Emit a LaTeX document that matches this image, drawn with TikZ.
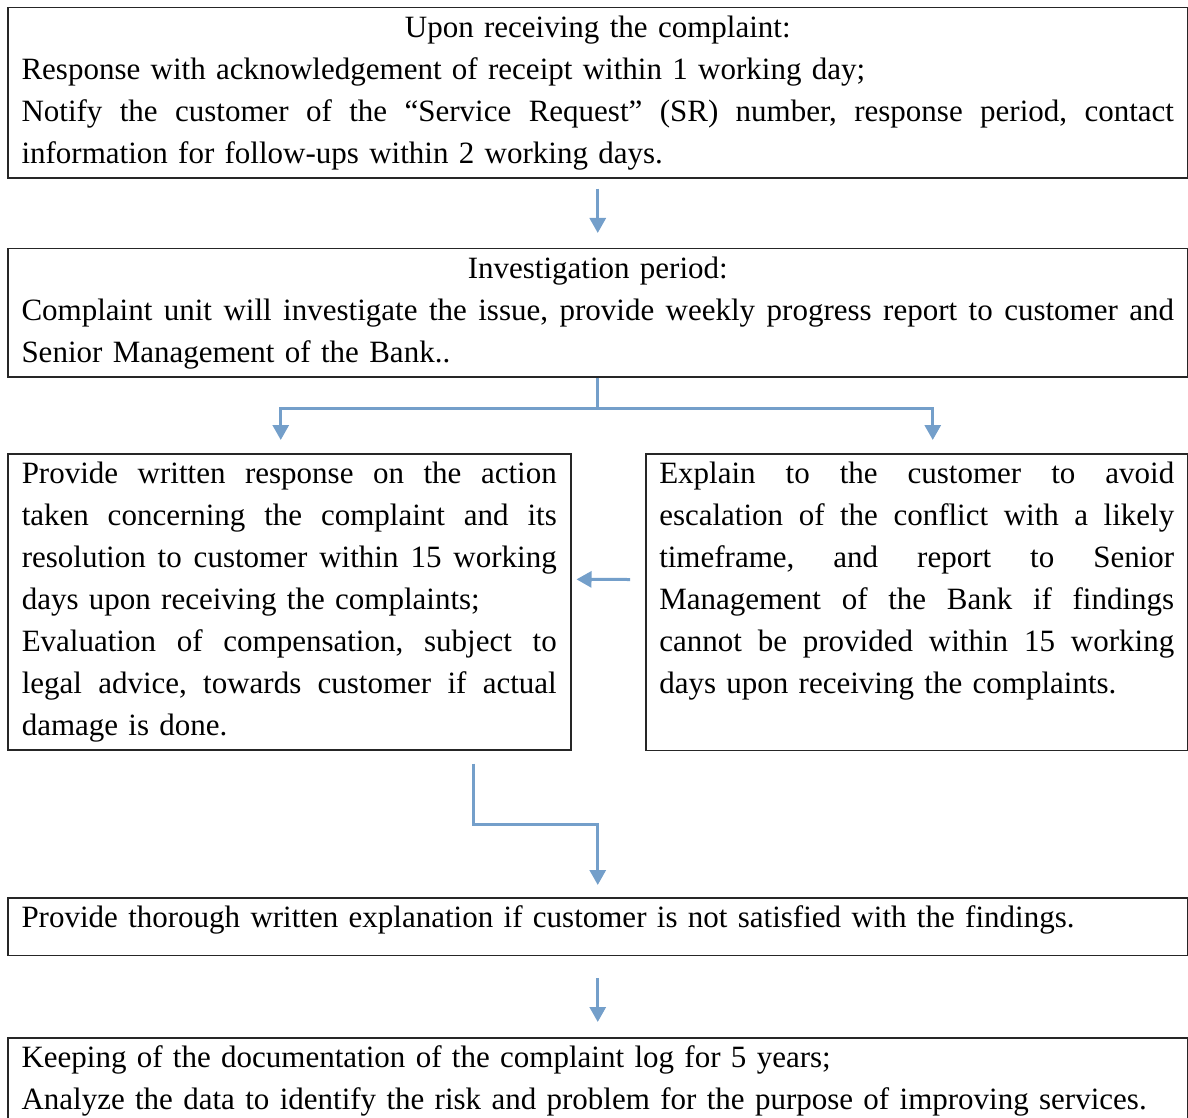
\documentclass[tikz,border=0pt]{standalone}
\usepackage{fontspec}
\setmainfont{Liberation Serif}
\usetikzlibrary{arrows.meta}
\definecolor{flowblue}{RGB}{116,159,202}
\newcommand{\boxfont}{\fontsize{15.5}{21}\selectfont}
\tikzstyle{box}=[draw=black!85, line width=0.75pt, anchor=north west, inner ysep=4pt, font=\boxfont]
\tikzstyle{wide}=[box, text width=576.25pt, inner xsep=6.875pt]
\tikzstyle{connect}=[draw=flowblue, line width=1.5pt, -{Triangle[width=8pt,length=7.5pt]}]
% a justified line: the words are spread over the full width
\def\spreadwords#1 #2\relax{#1\if\relax\detokenize{#2}\relax\else\hfill\spreadwords#2\relax\fi}
\newcommand{\fullline}[1]{\leavevmode\hbox to \hsize{\spreadwords#1 \relax}}
\newcommand{\midline}[1]{\leavevmode\hbox to \hsize{\hfil#1\hfil}}

\begin{document}
\begin{tikzpicture}[x=0.5pt, y=-0.5pt]
    \useasboundingbox (0,0) rectangle (1188,1118);

    % receiving and investigation
    \node[wide] (recv) at (7,7) {\midline{Upon receiving the complaint:}\\
        Response with acknowledgement of receipt within 1 working day;\\
        \fullline{Notify the customer of the “Service Request” (SR) number, response period, contact}\\
        information for follow-ups within 2 working days.};
    \node[wide] (invest) at (7,248) {\midline{Investigation period:}\\
        \fullline{Complaint unit will investigate the issue, provide weekly progress report to customer and}\\
        Senior Management of the Bank..};

    % two branches
    \node[box, text width=267.5pt, inner xsep=7pt] (written) at (7,453) {%
        \fullline{Provide written response on the action}\\
        \fullline{taken concerning the complaint and its}\\
        \fullline{resolution to customer within 15 working}\\
        days upon receiving the complaints;\\
        \fullline{Evaluation of compensation, subject to}\\
        \fullline{legal advice, towards customer if actual}\\
        damage is done.};
    \node[box, text width=257.5pt, inner xsep=6.75pt, text depth=129.5pt] (explain) at (645,453) {%
        \fullline{Explain to the customer to avoid}\\
        \fullline{escalation of the conflict with a likely}\\
        \fullline{timeframe, and report to Senior}\\
        \fullline{Management of the Bank if findings}\\
        \fullline{cannot be provided within 15 working}\\
        days upon receiving the complaints.};

    % follow-up and records
    \node[wide, text depth=10pt] (notsat) at (7,897) {Provide thorough written explanation if customer is not satisfied with the findings.};
    \node[wide] (keep) at (7,1037) {Keeping of the documentation of the complaint log for 5 years;\\
        Analyze the data to identify the risk and problem for the purpose of improving services.};

    % Connect the nodes
    \coordinate (split) at ([yshift=-15.5pt]invest.south);
    \draw[connect] ([yshift=-5pt]recv.south) -- ([yshift=7.5pt]invest.north);
    \draw[connect] (invest.south) -- (split) -| ([xshift=-4.25pt, yshift=6.5pt]written.north);
    \draw[connect] (split) -| ([xshift=8pt, yshift=6.5pt]explain.north);
    \draw[connect] ([xshift=-7.5pt, yshift=11.25pt]explain.west) -- ([xshift=2.5pt, yshift=11.25pt]written.east);
    \draw[connect] ([xshift=92.25pt, yshift=-6.5pt]written.south) -- ++(0,61) -| ([yshift=6pt]notsat.north);
    \draw[connect] ([yshift=-11pt]notsat.south) -- ([yshift=7.5pt]keep.north);
\end{tikzpicture}
\end{document}
